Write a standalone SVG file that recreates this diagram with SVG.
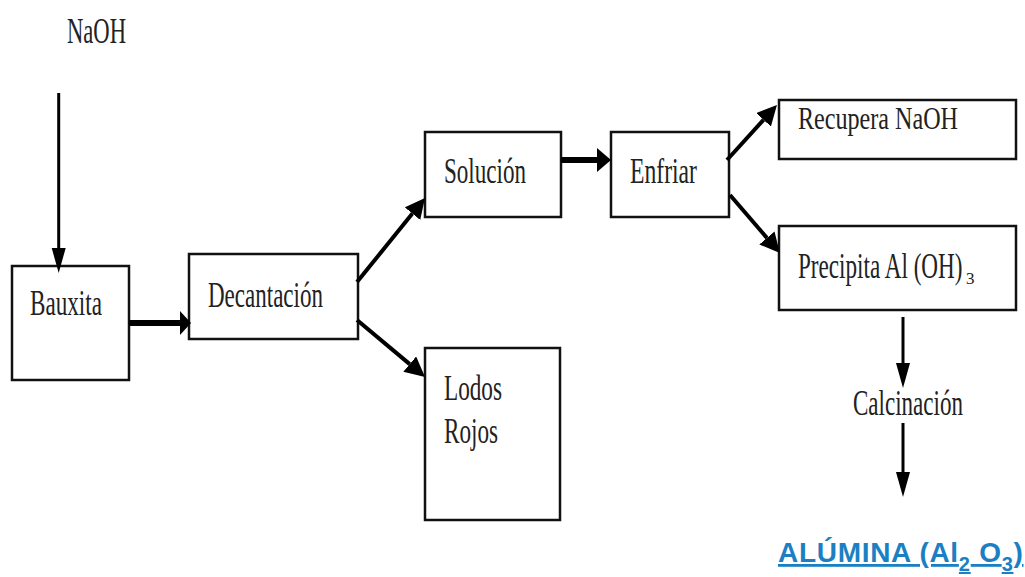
<svg xmlns="http://www.w3.org/2000/svg" width="1025" height="577" viewBox="0 0 1025 577">
<style>
.box{fill:#fff;stroke:#111;stroke-width:2.5}
.t{font-family:"Liberation Serif","Times New Roman",serif;font-size:35px;fill:#222}
.sub{font-family:"Liberation Serif","Times New Roman",serif;font-size:17px;fill:#222}
.c{stroke:#000;fill:none}
.thin{stroke-width:3}
.mid{stroke-width:4}
.thick{stroke-width:6}
.alu{font-family:"Liberation Sans",Arial,sans-serif;font-weight:bold;font-size:28px;letter-spacing:0.7px;fill:#1b80c3;text-decoration:underline}
</style>
<defs>
<marker id="hThin" markerUnits="userSpaceOnUse" markerWidth="26" markerHeight="16" refX="0" refY="7" orient="auto"><path d="M0,0 L25,7 L0,14 Z" fill="#000"/></marker>
<marker id="hThick" markerUnits="userSpaceOnUse" markerWidth="14" markerHeight="26" refX="0" refY="12" orient="auto"><path d="M0,0 L11,12 L0,24 Z" fill="#000"/></marker>
<marker id="hMid" markerUnits="userSpaceOnUse" markerWidth="22" markerHeight="22" refX="0" refY="10" orient="auto"><path d="M0,0 L20,10 L0,20 Z" fill="#000"/></marker>
<marker id="hMid2" markerUnits="userSpaceOnUse" markerWidth="16" markerHeight="26" refX="0" refY="12" orient="auto"><path d="M0,0 L14,12 L0,24 Z" fill="#000"/></marker>
</defs>

<g id="naoh"><text class="t" x="67" y="43" style="font-size:36px" textLength="59" lengthAdjust="spacingAndGlyphs">NaOH</text></g>

<g id="bauxita"><rect class="box" x="12" y="266" width="117" height="114"/><text class="t" x="30" y="315" textLength="72" lengthAdjust="spacingAndGlyphs">Bauxita</text></g>

<g id="decantacion"><rect class="box" x="189" y="254" width="169" height="85"/><text class="t" x="208" y="307" textLength="115" lengthAdjust="spacingAndGlyphs">Decantación</text></g>

<g id="solucion"><rect class="box" x="425" y="132" width="136" height="85"/><text class="t" x="444" y="183" textLength="82" lengthAdjust="spacingAndGlyphs">Solución</text></g>

<g id="lodos"><rect class="box" x="425" y="348" width="135" height="172"/><text class="t" x="444" y="400" textLength="58" lengthAdjust="spacingAndGlyphs">Lodos</text><text class="t" x="444" y="443" textLength="54" lengthAdjust="spacingAndGlyphs">Rojos</text></g>

<g id="enfriar"><rect class="box" x="611" y="132" width="118" height="85"/><text class="t" x="630" y="183" textLength="67" lengthAdjust="spacingAndGlyphs">Enfriar</text></g>

<g id="recupera"><rect class="box" x="779" y="100" width="237" height="59"/><text class="t" x="798" y="129" style="font-size:32px" textLength="160" lengthAdjust="spacingAndGlyphs">Recupera NaOH</text></g>

<g id="precipita"><rect class="box" x="779" y="226" width="237" height="84"/><text class="t" transform="scale(0.6614,1)" x="1206.5" y="278">Precipita Al (OH)</text><text class="sub" x="966" y="284">3</text></g>

<g id="calcinacion"><text class="t" x="853" y="415" textLength="110" lengthAdjust="spacingAndGlyphs">Calcinación</text></g>

<g id="alumina"><text class="alu" x="778" y="562">ALÚMINA (Al<tspan font-size="20" dy="9">2</tspan><tspan dy="-9"> O</tspan><tspan font-size="20" dy="9">3</tspan><tspan dy="-9">)</tspan></text></g>

<g id="connectors">
<line class="c thin" x1="58.7" y1="93" x2="58.7" y2="248" marker-end="url(#hThin)"/>
<line class="c thick" x1="129" y1="323" x2="180" y2="323" marker-end="url(#hThick)"/>
<line class="c mid" x1="357" y1="282" x2="412.4" y2="213.6" marker-end="url(#hMid)"/>
<line class="c mid" x1="357" y1="320" x2="409.7" y2="364.1" marker-end="url(#hMid)"/>
<line class="c thick" x1="561" y1="160" x2="597" y2="160" marker-end="url(#hMid2)"/>
<line class="c mid" x1="727" y1="160" x2="763.5" y2="119.8" marker-end="url(#hMid)"/>
<line class="c mid" x1="730" y1="195" x2="766.9" y2="237.9" marker-end="url(#hMid)"/>
<line class="c thin" x1="903" y1="317" x2="903" y2="363" marker-end="url(#hThin)"/>
<line class="c thin" x1="903" y1="423" x2="903" y2="472" marker-end="url(#hThin)"/>
</g>
</svg>
